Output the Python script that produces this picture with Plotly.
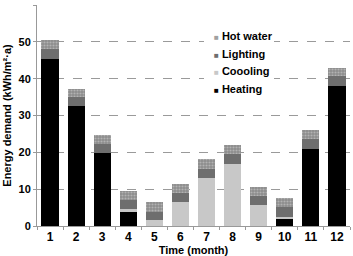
import plotly.graph_objects as go

months = ["1", "2", "3", "4", "5", "6", "7", "8", "9", "10", "11", "12"]
heating = [45.3, 32.7, 19.7, 3.7, 0, 0, 0, 0, 0, 1.8, 20.9, 37.9]
cooling = [0, 0, 0, 0.8, 1.5, 6.6, 13.0, 16.8, 5.7, 0.6, 0, 0]
lighting = [2.8, 2.3, 2.6, 2.6, 2.4, 2.4, 2.4, 2.7, 2.5, 2.7, 2.7, 2.9]
hot_water = [2.4, 2.3, 2.5, 2.3, 2.7, 2.5, 2.7, 2.5, 2.4, 2.4, 2.4, 2.2]
y_ticks = [0, 10, 20, 30, 40, 50, 60]

FONT = "Liberation Sans, Arial, sans-serif"

series = [
    ("Heating", heating, "#000000", "#000000"),
    ("Coooling", cooling, "#c8c8c8", "#c8c8c8"),
    ("Lighting", lighting, "#6e6e6e", "#6e6e6e"),
    ("Hot water", hot_water, "#9a9a9a", "#a0a0a0"),
]

fig = go.Figure()
for name, vals, col, _ in series:
    marker = dict(color=col, line=dict(width=0))
    if name == "Hot water":
        marker["pattern"] = dict(shape=".", fgcolor="#d8d8d8", bgcolor="#8c8c8c",
                                 size=3, solidity=0.4)
    fig.add_trace(go.Bar(x=months, y=vals, name=name, marker=marker, showlegend=False))

# legend box (white background interrupting grid lines)
px_x = lambda p: (p - 37) / 313
px_y = lambda p: (226 - p) / 221
fig.add_shape(type="rect", xref="paper", yref="paper",
              x0=px_x(204), x1=px_x(274), y0=px_y(97), y1=px_y(27),
              fillcolor="white", line=dict(width=0), layer="above")

legend_rows = [("Hot water", 36), ("Lighting", 53.5), ("Coooling", 71), ("Heating", 88.5)]
legend_cols = {name: lc for name, _, _, lc in series}
for name, py in legend_rows:
    fig.add_annotation(
        xref="paper", yref="paper", x=px_x(212), y=px_y(py),
        xanchor="left", yanchor="middle", showarrow=False,
        text=f"<span style='color:{legend_cols[name]};font-size:8px'>■</span> {name}",
        font=dict(family=FONT, size=11, color="#000000", weight="bold"),
    )

fig.update_layout(
    width=353, height=256,
    margin=dict(l=37, r=3, t=5, b=30),
    barmode="stack", bargap=0.34,
    paper_bgcolor="white", plot_bgcolor="white",
    font=dict(family=FONT, size=11, color="#000000", weight="bold"),
    showlegend=False,
    xaxis=dict(title=dict(text="Time (month)", font=dict(size=11, weight="bold"), standoff=2),
               tickfont=dict(size=12, weight="bold"),
               showline=True, linecolor="#999999", linewidth=1,
               ticks="outside", tickson="boundaries", ticklen=3, tickcolor="#999999",
               showgrid=False),
    yaxis=dict(title=dict(text="Energy demand (kWh/m²·a)", font=dict(size=11, weight="bold"), standoff=4),
               range=[0, 60], tickvals=y_ticks,
               tickfont=dict(size=11, weight="bold"),
               showline=True, linecolor="#999999", linewidth=1,
               ticks="outside", ticklen=3, tickcolor="#999999",
               showgrid=True, gridcolor="#9a9a9a", griddash="dash", gridwidth=1,
               zeroline=False),
)

fig.write_html("out.html")
